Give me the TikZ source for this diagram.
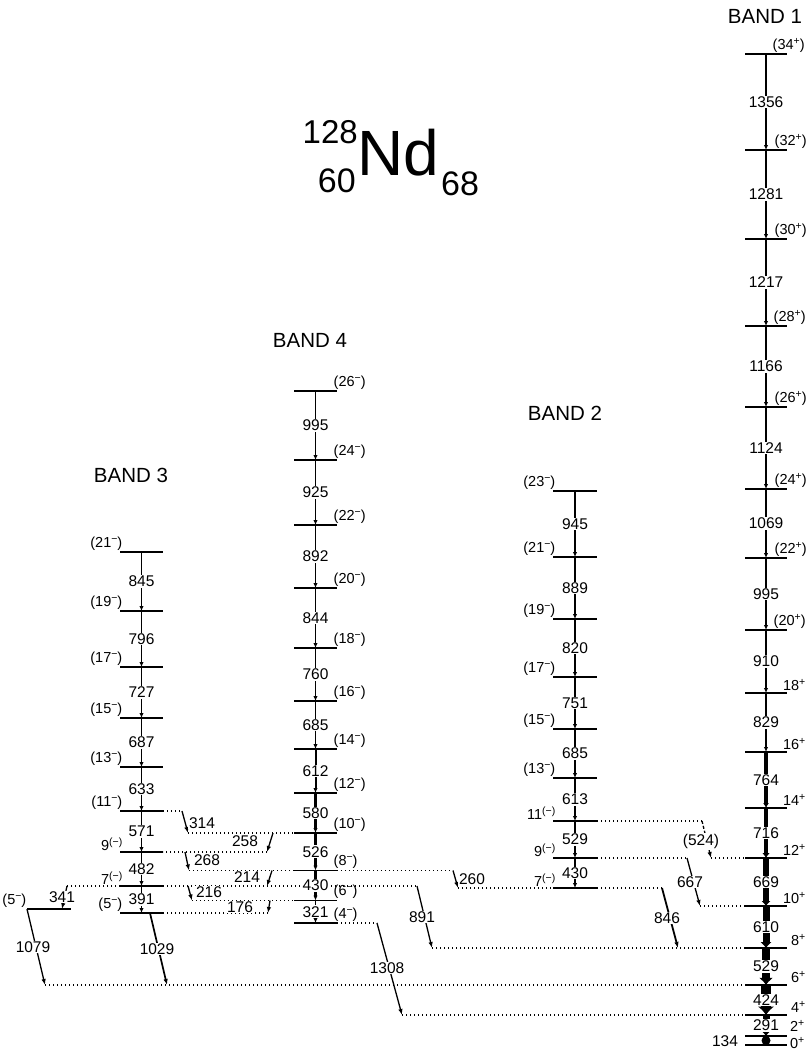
\documentclass[tikz,border=0pt]{standalone}
\usepackage{fontspec}
\setmainfont{Liberation Sans}
\usetikzlibrary{arrows.meta,calc}
\newcommand{\mklevel}[5][1.5pt]{%
  \coordinate (#2) at (#3,#4);
  \coordinate (#2-l) at (#3-#5,#4);
  \coordinate (#2-r) at (#3+#5,#4);
  \draw[line width=#1] (#2-l) -- (#2-r);}
\newcommand{\supx}[1]{\raisebox{5pt}{\fontsize{10.5}{10.5}\selectfont #1}}
\newcommand{\posp}{\supx{+}}
\newcommand{\negp}{\supx{−}}
\newcommand{\pneg}{\supx{(−)}}
\begin{document}
\begin{tikzpicture}[x=1pt,y=-1pt,
  link/.style={line width=1.2pt, dash pattern=on 1.2pt off 2.8pt},
  gam/.style={line width=1.3pt, -{Latex[length=6pt,width=4.5pt]}},
  elab/.style={fill=white, inner sep=1pt, font=\fontsize{15.5}{15.5}\selectfont},
  spin/.style={inner sep=0.5pt, font=\fontsize{14.5}{14.5}\selectfont},
  bandt/.style={font=\fontsize{20.5}{20.5}\selectfont, inner sep=0pt}]
\useasboundingbox (0,0) rectangle (806,1052);

% ---------- levels ----------
\foreach \n/\y in {34/54,32/150,30/239,28/326,26/407,24/489,22/558,20/630,18/693,16/752}
  {\mklevel{b1-\n}{766}{\y}{21}}
\foreach \n/\y in {14/808,12/858,10/906,8/948,6/985,4/1015,2/1036,0/1045}
  {\mklevel[2pt]{b1-\n}{766}{\y}{21}}
\foreach \n/\y in {23/491,21/557,19/619,17/677,15/729,13/778,11/821,9/858,7/888}
  {\mklevel{b2-\n}{575}{\y}{22}}
\foreach \n/\y in {21/552,19/611,17/667,15/718,13/767,11/811,9/852,7/886,5/913}
  {\mklevel{b3-\n}{141.5}{\y}{21.5}}
\foreach \n/\y in {26/391,24/460,22/525,20/588,18/648,16/701,14/749,12/793,10/833,8/870.5,6/900.5,4/923}
  {\mklevel{b4-\n}{315.5}{\y}{21.5}}
\mklevel{b5}{49}{909}{22}

% ---------- links (dotted) and waypoints ----------
\coordinate (t314a) at (182,811);  \coordinate (t314b) at (188,833);
\coordinate (t258a) at (273,833);  \coordinate (t258b) at (267,852);
\coordinate (t268a) at (185,852);  \coordinate (t268b) at (189,870.5);
\coordinate (t214a) at (272,870.5);\coordinate (t214b) at (267,886);
\coordinate (t216a) at (188,886);  \coordinate (t216b) at (192,900.5);
\coordinate (t176a) at (270,900.5);\coordinate (t176b) at (268,913);
\coordinate (t341a) at (67,886);   \coordinate (t341b) at (62,909);
\coordinate (t1079b) at (45,985);
\coordinate (t1029a) at (150,913); \coordinate (t1029b) at (167,985);
\coordinate (t891a) at (417,886);  \coordinate (t891b) at (432,948);
\coordinate (t260a) at (453,870.5);\coordinate (t260b) at (458,888);
\coordinate (t1308a) at (377,923); \coordinate (t1308b) at (402,1015);
\coordinate (t846a) at (662,888);  \coordinate (t846b) at (678,948);
\coordinate (t667a) at (687,858);  \coordinate (t667b) at (700,906);
\coordinate (t524a) at (702,821);  \coordinate (t524b) at (711,858);

\draw[link] (b3-11-r) -- (t314a);
\draw[link] (t314b) -- (b4-10-l);
\draw[link] (t258b) -- (b3-9-r);
\draw[link] (t268b) -- (b4-8-l);
\draw[link] (b3-7-r) -- (t891a);
\draw[link] (b3-7-l) -- (t341a);
\draw[link] (t216b) -- (b4-6-l);
\draw[link] (t176b) -- (b3-5-r);
\draw[link] (t1079b) -- (b1-6-l);
\draw[link] (t891b) -- (b1-8-l);
\draw[link] (b4-8-r) -- (t260a);
\draw[link] (t260b) -- (b2-7-l);
\draw[link] (b4-4-r) -- (t1308a);
\draw[link] (t1308b) -- (b1-4-l);
\draw[link] (b2-7-r) -- (t846a);
\draw[link] (b2-9-r) -- (t667a);
\draw[link] (t667b) -- (b1-10-l);
\draw[link] (b2-11-r) -- (t524a);
\draw[link] (t524b) -- (b1-12-l);

% ---------- interband transitions ----------
\draw[gam] (t314a) -- (t314b);
\draw[gam] (t258a) -- (t258b);
\draw[gam] (t268a) -- (t268b);
\draw[gam] (t214a) -- (t214b);
\draw[gam] (t216a) -- (t216b);
\draw[gam] (t176a) -- (t176b);
\draw[gam] (t341a) -- (t341b);
\draw[gam] (b5-l) -- (t1079b);
\draw[gam, line width=1.7pt] (t1029a) -- (t1029b);
\draw[gam] (t891a) -- (t891b);
\draw[gam] (t260a) -- (t260b);
\draw[gam] (t1308a) -- (t1308b);
\draw[gam, line width=1.8pt] (t846a) -- (t846b);
\draw[gam] (t667a) -- (t667b);
\draw[gam, dash pattern=on 3pt off 2pt] (t524a) -- (t524b);

% ---------- in-band transitions ----------
\foreach \a/\b/\e/\w in {34/32/1356/1.2,32/30/1281/1.2,30/28/1217/1.2,28/26/1166/1.2,26/24/1124/1.2,24/22/1069/1.3,22/20/995/1.4,20/18/910/2,18/16/829/2.6,16/14/764/3.5,14/12/716/4.5,12/10/669/5.5,10/8/610/7,8/6/529/8.5,6/4/424/10,4/2/291/7}{
  \pgfmathsetmacro\aw{max(4.5,1.7*\w)}
  \pgfmathsetmacro\al{max(5,0.85*\w)}
  \draw[line width=\w pt, -{Latex[length=\al pt,width=\aw pt]}] (b1-\a) -- (b1-\b) node[elab, midway] (e1-\a) {\e};
}
\fill (766,1040.5) ellipse [x radius=4.5pt, y radius=4.5pt];
\node[elab, fill=none] (e1-2) at (725,1041) {134};

\foreach \a/\b/\e/\w in {23/21/945/1.3,21/19/889/1.3,19/17/820/1.4,17/15/751/2,15/13/685/2,13/11/613/2.2,11/9/529/2.5,9/7/430/2}{
  \draw[line width=\w pt, -{Latex[length=5pt,width=4.5pt]}] (b2-\a) -- (b2-\b) node[elab, midway] (e2-\a) {\e};
}
\foreach \a/\b/\e/\w in {21/19/845/1.3,19/17/796/1.3,17/15/727/1.3,15/13/687/1.3,13/11/633/1.4,11/9/571/1.6,9/7/482/1.6,7/5/391/1.6}{
  \draw[line width=\w pt, -{Latex[length=5pt,width=4.5pt]}] (b3-\a) -- (b3-\b) node[elab, midway] (e3-\a) {\e};
}
\foreach \a/\b/\e/\w in {26/24/995/1.2,24/22/925/1.2,22/20/892/1.2,20/18/844/1.2,18/16/760/1.2,16/14/685/1.3,14/12/612/2,12/10/580/2.2,10/8/526/2.5,8/6/430/2.2,6/4/321/1.8}{
  \draw[line width=\w pt, -{Latex[length=5pt,width=4.5pt]}] (b4-\a) -- (b4-\b) node[elab, midway] (e4-\a) {\e};
}

% ---------- interband labels ----------
\node[elab] (l314) at (202,823) {314};
\node[elab] (l258) at (245,841) {258};
\node[elab] (l268) at (207,860) {268};
\node[elab] (l214) at (247,877) {214};
\node[elab] (l216) at (209,892) {216};
\node[elab] (l176) at (240,907) {176};
\node[elab] (l341) at (62,897) {341};
\node[elab] (l1079) at (33,947) {1079};
\node[elab] (l1029) at (157,949) {1029};
\node[elab] (l891) at (422,917) {891};
\node[elab] (l260) at (472,879) {260};
\node[elab] (l1308) at (387,968) {1308};
\node[elab] (l846) at (667,918) {846};
\node[elab] (l667) at (690,882) {667};
\node[elab] (l524) at (701,841) {(524)};

% ---------- spin labels ----------
\foreach \n/\t/\o in {34/(34\posp)/15,32/(32\posp)/13,30/(30\posp)/13,28/(28\posp)/14,26/(26\posp)/13,24/(24\posp)/13,22/(22\posp)/13,20/(20\posp)/14}
  {\node[spin, anchor=south west] (s1-\n) at ($(b1-\n-r)+(-\o,-1)$) {\t};}
\foreach \n/\t in {18/18\posp,16/16\posp,14/14\posp,12/12\posp,10/10\posp,8/8\posp,6/6\posp,4/4\posp}
  {\node[spin, anchor=south east] (s1-\n) at ($(b1-\n-r)+(19,-2)$) {\t};}
\node[spin, anchor=base east] (s1-2) at (805,1031) {2\posp};
\node[spin, anchor=base east] (s1-0) at (805,1048) {0\posp};
\foreach \n/\t in {23/(23\negp),21/(21\negp),19/(19\negp),17/(17\negp),15/(15\negp),13/(13\negp),11/11\pneg,9/9\pneg,7/7\pneg}
  {\node[spin, anchor=south east] (s2-\n) at ($(b2-\n-l)+(3,-1)$) {\t};}
\foreach \n/\t in {21/(21\negp),19/(19\negp),17/(17\negp),15/(15\negp),13/(13\negp),11/(11\negp),9/9\pneg,7/7\pneg,5/(5\negp)}
  {\node[spin, anchor=south east] (s3-\n) at ($(b3-\n-l)+(3,-1)$) {\t};}
\foreach \n/\t in {26/(26\negp),24/(24\negp),22/(22\negp),20/(20\negp),18/(18\negp),16/(16\negp),14/(14\negp),12/(12\negp),10/(10\negp),8/(8\negp),6/(6\negp),4/(4\negp)}
  {\node[spin, anchor=south west] (s4-\n) at ($(b4-\n-r)+(-4,-1)$) {\t};}
\node[spin, anchor=south east] (s5) at ($(b5-l)+(0,-1)$) {(5\negp)};

% ---------- titles ----------
\node[bandt] (tb1) at (765,16) {BAND 1};
\node[bandt] (tb4) at (310,340) {BAND 4};
\node[bandt] (tb3) at (131,475) {BAND 3};
\node[bandt] (tb2) at (565,413) {BAND 2};
\node[anchor=base west, inner sep=0pt, font=\fontsize{64}{64}\selectfont] (nd) at (357,175) {Nd};
\node[anchor=base east, inner sep=0pt, font=\fontsize{33}{33}\selectfont] (mass) at (358,143) {128};
\node[anchor=base east, inner sep=0pt, font=\fontsize{34}{34}\selectfont] (zz) at (356,192) {60};
\node[anchor=base west, inner sep=0pt, font=\fontsize{34}{34}\selectfont] (nn) at (441,195) {68};
\end{tikzpicture}
\end{document}
